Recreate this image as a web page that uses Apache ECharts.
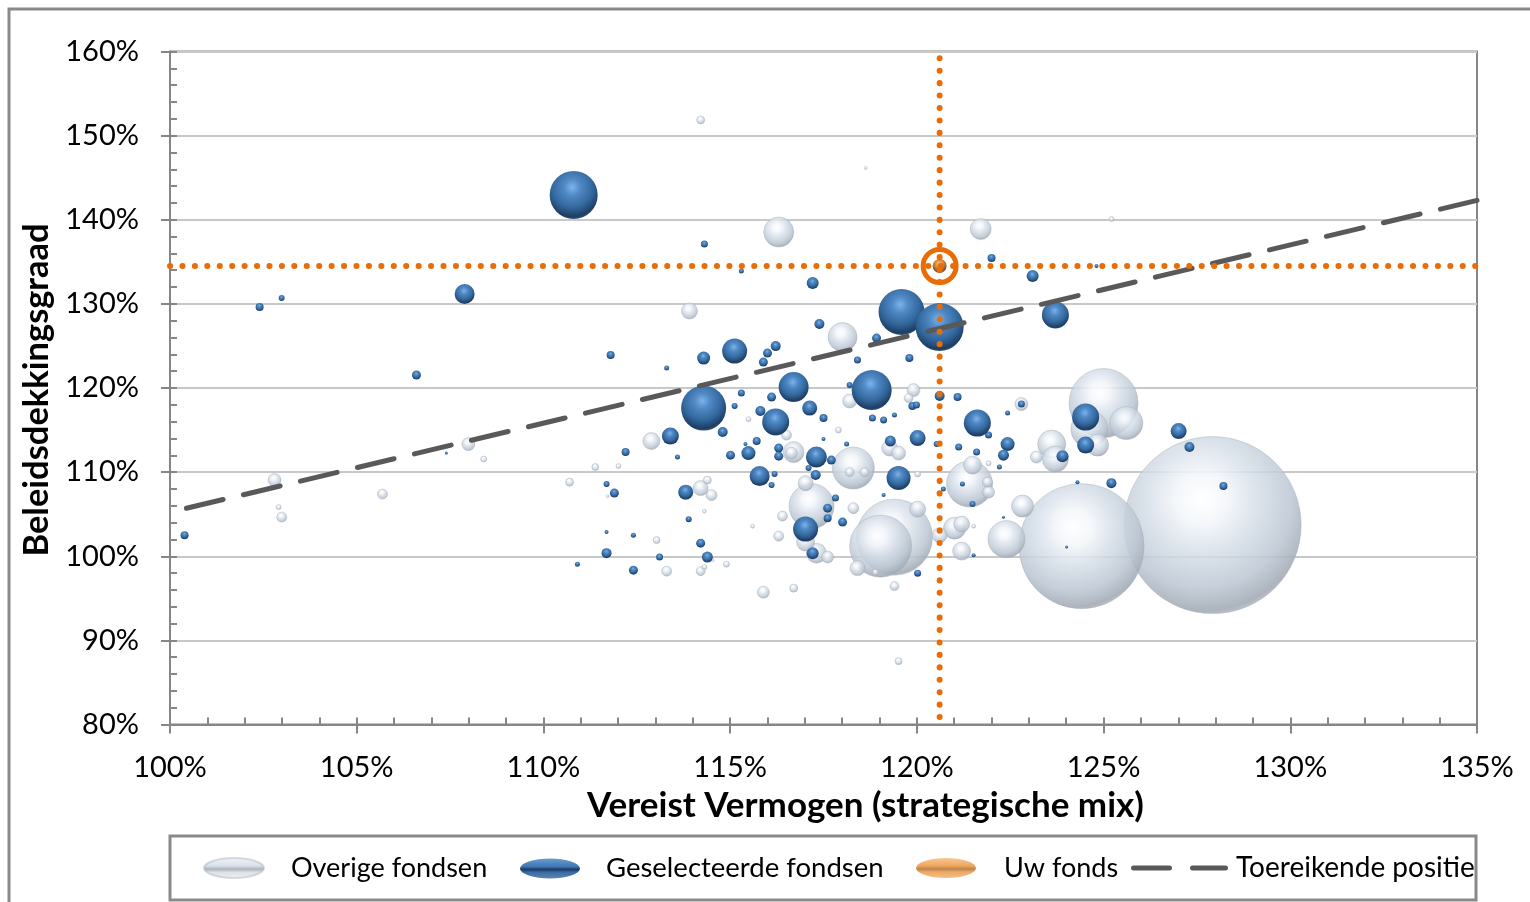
<!DOCTYPE html>
<html>
<head>
<meta charset="utf-8">
<title>Beleidsdekkingsgraad</title>
<script src="https://cdn.jsdelivr.net/npm/echarts@6/dist/echarts.min.js"></script>
<style>
  html, body { margin: 0; padding: 0; background: #fff; }
  #chart { width: 1530px; height: 902px; }
</style>
</head>
<body>
<div id="chart"></div>
<script>
// [vereist vermogen %, beleidsdekkingsgraad %, omvang]
const overigeFondsen = [
  [127.92,103.70,31329],[124.41,101.20,15625],[119.40,102.27,5776],[125.00,118.21,4761],[119.03,101.20,3844],
  [121.41,108.58,2116],[117.18,105.96,2025],[118.30,110.48,1764],[122.40,102.04,1369],[124.62,115.12,1369],
  [125.61,115.83,1089],[116.30,138.54,900],[118.01,126.05,841],[123.61,113.33,784],[123.71,111.55,676],
  [124.84,113.21,484],[121.01,103.34,484],[122.83,105.96,484],[121.71,138.90,441],[116.70,112.38,441],
  [117.31,100.37,400],[121.49,110.83,324],[121.20,100.61,324],[117.02,101.68,324],[112.89,113.69,289],
  [113.91,129.15,256],[119.27,112.86,256],[120.02,105.60,256],[121.20,103.82,256],[114.21,108.10,225],
  [117.02,108.69,225],[120.61,102.51,225],[118.41,98.59,225],[118.20,118.45,196],[119.51,112.26,196],
  [119.91,119.75,169],[122.80,118.09,169],[102.80,109.05,169],[107.99,113.33,169],[116.64,112.26,144],
  [115.89,95.73,144],[117.61,99.90,144],[121.92,107.62,144],[123.20,111.79,144],[114.50,107.27,121],
  [118.30,105.72,121],[116.51,114.40,100],[116.30,102.39,100],[116.40,104.77,100],[113.30,98.23,100],
  [121.89,108.81,100],[102.99,104.65,100],[105.69,107.39,100],[119.78,118.80,81],[118.20,110.00,81],
  [118.60,110.00,81],[119.40,96.45,81],[114.21,98.23,81],[114.21,151.86,64],[110.70,108.81,64],
  [114.39,109.05,64],[116.70,96.21,64],[111.39,110.60,49],[113.03,101.92,49],[119.51,87.53,49],
  [117.90,115.00,36],[120.02,109.77,36],[118.89,98.11,36],[114.90,99.06,36],[108.40,111.55,36],
  [125.21,140.08,25],[115.49,116.30,25],[112.01,110.72,25],[114.31,98.71,25],[121.92,111.05,25],
  [102.91,105.84,25],[114.31,105.37,16],[115.60,103.58,16],[121.52,103.58,16],[118.63,146.15,9],
  [111.72,107.15,9],[114.53,99.54,9]
];

const geselecteerdeFondsen = [
  [110.81,142.94,2304],[107.89,131.17,400],[102.40,129.62,64],[102.99,130.69,36],[106.60,121.54,81],
  [107.40,112.26,9],[100.39,102.51,64],[114.31,137.11,49],[115.30,133.90,25],[117.21,132.47,144],
  [119.59,129.03,2116],[120.61,127.24,2304],[122.00,135.45,64],[123.10,133.31,144],[117.39,127.60,100],
  [118.92,125.93,81],[116.22,124.98,100],[116.00,124.15,81],[115.89,123.08,81],[115.12,124.39,625],
  [114.29,123.56,169],[111.80,123.91,64],[113.30,122.37,25],[118.41,123.32,49],[119.80,123.56,64],
  [116.70,120.11,900],[118.79,119.75,1600],[118.20,120.35,36],[114.29,117.61,2025],[115.30,119.40,49],
  [116.11,118.92,81],[120.61,119.04,100],[121.09,118.92,64],[115.12,117.85,36],[115.81,117.26,100],
  [117.13,117.61,225],[116.22,115.95,729],[117.50,116.42,64],[118.81,116.42,49],[119.11,116.19,49],
  [119.40,116.78,25],[119.88,117.85,64],[119.99,117.97,49],[122.43,117.02,25],[122.80,118.09,49],
  [113.40,114.28,289],[114.80,114.76,100],[112.20,112.38,64],[113.59,111.79,25],[115.41,113.33,16],
  [115.71,113.69,64],[115.01,112.02,81],[115.49,112.26,196],[116.30,112.86,81],[116.30,111.90,81],
  [117.31,111.79,441],[117.71,111.43,81],[117.50,113.93,16],[118.12,113.33,25],[119.29,113.69,121],
  [120.02,114.05,256],[120.53,113.33,36],[121.12,112.98,49],[121.60,112.38,49],[122.43,113.33,196],
  [122.32,112.02,121],[122.21,110.60,25],[121.92,114.40,49],[121.62,115.83,729],[119.51,109.29,576],
  [117.10,110.48,36],[116.19,109.77,36],[115.79,109.53,400],[117.29,109.65,100],[116.11,108.46,36],
  [111.69,108.58,36],[111.90,107.51,81],[113.81,107.62,225],[119.11,107.27,16],[117.82,106.91,49],
  [120.71,107.98,25],[121.22,108.58,25],[121.49,106.20,36],[117.61,105.72,81],[117.61,104.53,64],
  [118.01,104.06,81],[117.02,103.23,625],[113.89,104.41,36],[111.69,102.87,16],[112.41,102.51,25],
  [114.21,101.56,81],[111.69,100.37,100],[113.11,99.90,49],[114.39,99.90,121],[117.21,100.37,144],
  [110.91,99.06,25],[112.41,98.35,81],[120.02,97.99,49],[122.32,104.65,9],[121.52,100.13,16],
  [124.52,116.54,729],[124.52,113.21,289],[123.90,111.90,144],[124.30,108.81,16],[125.21,108.69,100],
  [124.01,101.09,9],[127.01,114.88,256],[127.30,112.98,100],[128.21,108.34,64],[124.81,134.50,16],
  [123.71,128.67,729]
];

const uwFonds = [[120.61,134.50,196]];
const toereikendePositie = [[100.44,105.7],[135,142.3]];
const xRange = [100, 135];
const yRange = [80, 160];

const AXIS_GREY = '#868686';
const ORANGE = '#E96C07';
const DASH_GREY = '#595959';
const FONT = 'Lato';

function sphere(stops, cx, cy) {
  return new echarts.graphic.RadialGradient(cx, cy, 0.72, stops.map(c => ({ offset: c[0], color: c[1] })));
}
// legend ellipses are flattened spheres, bands read better than a bullseye
function bands(stops) {
  return new echarts.graphic.LinearGradient(0, 0, 0, 1, stops.map(c => ({ offset: c[0], color: c[1] })));
}
const whiteFill = sphere([
  [0, 'rgba(255,255,255,0.92)'], [0.2, 'rgba(243,246,250,0.88)'], [0.45, 'rgba(211,220,230,0.84)'],
  [0.7, 'rgba(188,199,211,0.86)'], [0.88, 'rgba(163,171,181,0.9)'], [1, 'rgba(208,213,218,0.75)']
], 0.44, 0.35);
const blueFill = sphere([
  [0, '#7CB3EA'], [0.25, '#4F88C4'], [0.58, '#34699F'], [0.85, '#1D3D62'], [1, '#4F7196']
], 0.47, 0.34);
const orangeFill = sphere([
  [0, '#F9C68A'], [0.4, '#E08A35'], [0.8, '#7A5230'], [1, '#8A7E74']
], 0.47, 0.34);

const whiteBand = bands([[0, '#F2F5F8'], [0.4, '#D9E1EA'], [0.55, '#AEB4BB'], [0.7, '#DDE2E8'], [1, '#F2F4F6']]);
const blueBand = bands([[0, '#6A9DD2'], [0.4, '#3F76B3'], [0.55, '#1E3D62'], [0.7, '#3A6CA5'], [1, '#5B86B5']]);
const orangeBand = bands([[0, '#F8C893'], [0.4, '#F0A55E'], [0.55, '#B98650'], [0.7, '#EFA864'], [1, '#F3BE8A']]);

function bubbleSize(v) { return Math.sqrt(v[2]); }

const ELLIPSE = 'path://M0,50 A50,50 0 1 1 100,50 A50,50 0 1 1 0,50 Z';
const DASHES = 'path://M2.5,0 H38.5 A2.5,2.5 0 0 1 38.5,5 H2.5 A2.5,2.5 0 0 1 2.5,0 Z M61.5,0 H94.5 A2.5,2.5 0 0 1 94.5,5 H61.5 A2.5,2.5 0 0 1 61.5,0 Z';

function legendItem(name, left, top, textPad, width, height, icon, fontSize, fill) {
  return {
    data: [{ name: name, icon: icon, itemStyle: { color: fill } }],
    left: left,
    top: top,
    padding: 0,
    itemWidth: width,
    itemHeight: height,
    symbolKeepAspect: false,
    selectedMode: false,
    formatter: n => '{t|' + n + '}',
    textStyle: {
      rich: { t: { fontFamily: FONT, fontSize: fontSize, color: '#000', padding: [0, 0, 0, textPad] } }
    }
  };
}

const chart = echarts.init(document.getElementById('chart'));

chart.setOption({
  animation: false,
  backgroundColor: '#fff',
  textStyle: { fontFamily: FONT },
  grid: {
    left: 170, top: 51.5, width: 1307, height: 673,
    show: true, borderColor: AXIS_GREY, borderWidth: 2, backgroundColor: 'transparent'
  },
  legend: [
    legendItem('Overige fondsen', 203, 854.5, 22, 60, 20, ELLIPSE, 27, whiteBand),
    legendItem('Geselecteerde fondsen', 520, 854.5, 21, 60, 20, ELLIPSE, 27.5, blueBand),
    legendItem('Uw fonds', 916, 854.5, 23, 60, 20, ELLIPSE, 27, orangeBand),
    legendItem('Toereikende positie', 1131, 854, 3, 97, 5, DASHES, 28, DASH_GREY)
  ],
  xAxis: [
    {
      type: 'value', position: 'bottom', min: xRange[0], max: xRange[1], interval: 5,
      name: 'Vereist Vermogen (strategische mix)', nameLocation: 'middle', nameGap: 64,
      nameTextStyle: { fontFamily: FONT, fontSize: 35, fontWeight: 'bold', color: '#000', padding: [0, 0, 0, 84] },
      axisLine: { onZero: false, lineStyle: { color: AXIS_GREY, width: 2 } },
      axisTick: { show: true, length: 9, lineStyle: { color: AXIS_GREY, width: 2 } },
      axisLabel: { fontFamily: FONT, fontSize: 29, color: '#000', margin: 29, formatter: v => v + '%' },
      splitLine: { show: false }
    },
    {
      type: 'value', position: 'bottom', min: xRange[0], max: xRange[1], interval: 5,
      axisLine: { show: false },
      axisTick: { show: true, inside: true, length: 7, lineStyle: { color: AXIS_GREY, width: 2 } },
      minorTick: { show: true, splitNumber: 5, length: 7, lineStyle: { color: AXIS_GREY, width: 2 } },
      axisLabel: { show: false },
      splitLine: { show: false }
    }
  ],
  yAxis: [
    {
      type: 'value', position: 'left', min: yRange[0], max: yRange[1], interval: 10,
      name: 'Beleidsdekkingsgraad', nameLocation: 'middle', nameGap: 113,
      nameTextStyle: { fontFamily: FONT, fontSize: 34.5, fontWeight: 'bold', color: '#000', padding: [0, 4, 0, 0] },
      axisLine: { onZero: false, lineStyle: { color: AXIS_GREY, width: 2 } },
      axisTick: { show: true, length: 9, lineStyle: { color: AXIS_GREY, width: 2 } },
      axisLabel: { fontFamily: FONT, fontSize: 29, color: '#000', margin: 31, formatter: v => v + '%' },
      splitLine: { show: true, lineStyle: { color: '#C8C8C8', width: 2 } }
    },
    {
      type: 'value', position: 'left', min: yRange[0], max: yRange[1], interval: 10,
      axisLine: { show: false },
      axisTick: { show: true, inside: true, length: 7, lineStyle: { color: AXIS_GREY, width: 2 } },
      minorTick: { show: true, splitNumber: 5, length: 7, lineStyle: { color: AXIS_GREY, width: 2 } },
      axisLabel: { show: false },
      splitLine: { show: false }
    }
  ],
  series: [
    {
      name: 'Overige fondsen', type: 'scatter', data: overigeFondsen, symbolSize: bubbleSize,
      itemStyle: { color: whiteFill, borderColor: 'rgba(165,175,186,0.45)', borderWidth: 1, opacity: 1 }
    },
    {
      name: 'Geselecteerde fondsen', type: 'scatter', data: geselecteerdeFondsen, symbolSize: bubbleSize,
      itemStyle: { color: blueFill, opacity: 1 }
    },
    {
      name: 'Uw fonds', type: 'scatter', data: uwFonds, symbolSize: bubbleSize,
      itemStyle: { color: orangeFill, opacity: 1 }
    },
    {
      name: 'Toereikende positie', type: 'line', data: toereikendePositie, symbol: 'none',
      itemStyle: { color: DASH_GREY },
      lineStyle: { color: DASH_GREY, width: 5, type: [37.7, 20.9], cap: 'round' }
    },
    {
      name: 'Dekkingsgraad uw fonds', type: 'line', symbol: 'none',
      data: [[xRange[0], uwFonds[0][1]], [xRange[1], uwFonds[0][1]]],
      lineStyle: { color: ORANGE, width: 6, type: [0.1, 12.33], cap: 'round' }
    },
    {
      name: 'Vereist vermogen uw fonds', type: 'line', symbol: 'none',
      data: [[uwFonds[0][0], yRange[1] - 0.8], [uwFonds[0][0], yRange[0]]],
      lineStyle: { color: ORANGE, width: 6, type: [0.1, 12.33], cap: 'round' }
    },
    {
      name: 'Markering uw fonds', type: 'scatter', data: uwFonds, symbolSize: 33,
      itemStyle: { color: 'transparent', borderColor: ORANGE, borderWidth: 5, opacity: 1 }
    }
  ],
  graphic: [
    {
      type: 'polyline', silent: true, z: -1,
      shape: { points: [[9, 902], [9, 9], [1530, 9]] },
      style: { stroke: '#8A8A8A', lineWidth: 3, fill: null }
    },
    {
      type: 'rect', silent: true, z: -1,
      shape: { x: 170, y: 836, width: 1306, height: 64 },
      style: { stroke: '#8A8A8A', lineWidth: 3, fill: '#fff' }
    }
  ]
});
</script>
</body>
</html>
